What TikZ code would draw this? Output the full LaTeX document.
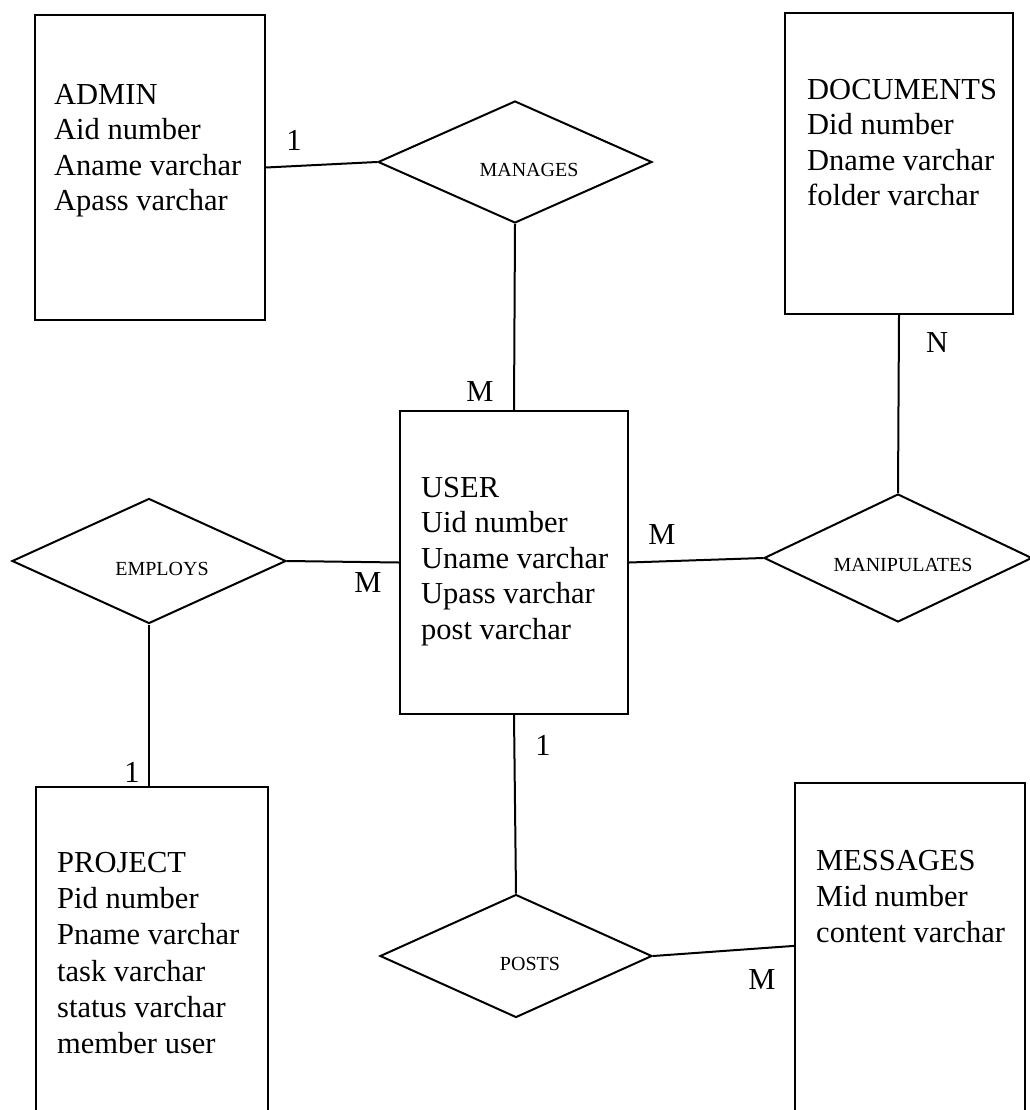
\documentclass[tikz,border=0pt]{standalone}
\usepackage{fontspec}
\setmainfont{Liberation Serif}
\usetikzlibrary{shapes.geometric,calc}
\begin{document}
\begin{tikzpicture}[x=1pt,y=-1pt,
  entity/.style={draw, rectangle, line width=2.2pt, inner sep=0pt},
  rel/.style={draw, diamond, line width=2pt, inner sep=0pt},
  attrs/.style={anchor=north west, inner sep=0pt, align=left,
    font=\fontsize{30.5}{35.5}\selectfont},
  rlabel/.style={inner sep=0pt, font=\fontsize{20}{24}\selectfont},
  card/.style={inner sep=0pt, font=\fontsize{30.5}{35}\selectfont},
  link/.style={line width=2pt}]
\useasboundingbox (0,0) rectangle (1029,1110);

% entities
\node[entity, minimum width=230pt, minimum height=305pt] (admin) at (150,167.5) {};
\node[entity, minimum width=228pt, minimum height=301pt] (docs) at (899,163.5) {};
\node[entity, minimum width=228pt, minimum height=303pt] (user) at (514,562.5) {};
\node[entity, minimum width=232pt, minimum height=353pt] (project) at (152,963.5) {};
\node[entity, minimum width=230pt, minimum height=357pt] (msg) at (910,961.5) {};

% attribute lists
\node[attrs] (admin-attrs) at (54,84) {ADMIN\\Aid number\\Aname varchar\\Apass varchar};
\node[attrs] (docs-attrs) at (807,79) {DOCUMENTS\\Did number\\Dname varchar\\folder varchar};
\node[attrs] (user-attrs) at (421,477) {USER\\Uid number\\Uname varchar\\Upass varchar\\post varchar};
\node[attrs, font=\fontsize{30.5}{36.2}\selectfont] (project-attrs) at (57,852)
  {PROJECT\\Pid number\\Pname varchar\\task varchar\\status varchar\\member user};
\node[attrs, font=\fontsize{30.5}{36}\selectfont] (msg-attrs) at (816,850)
  {MESSAGES\\Mid number\\content varchar};

% relationships
\node[rel, minimum width=274pt, minimum height=122pt] (manages) at (515,162) {};
\node[rel, minimum width=274pt, minimum height=125pt] (employs) at (149,561) {};
\node[rel, minimum width=268pt, minimum height=128pt] (manip) at (898,558) {};
\node[rel, minimum width=272pt, minimum height=123pt] (posts) at (516,956) {};

\node[rlabel] (manages-l) at (529,170) {MANAGES};
\node[rlabel] (employs-l) at (162,569) {EMPLOYS};
\node[rlabel] (manip-l) at (903,565) {MANIPULATES};
\node[rlabel] (posts-l) at (530,964) {POSTS};

% connectors
\coordinate (msg-in) at ($(msg.north west)+(0,164)$);
\draw[link] (admin.east) -- (manages.west);
\draw[link] (manages.south) -- (user.north);
\draw[link] (user.east) -- (manip.west);
\draw[link] (docs.south) -- (manip.north);
\draw[link] (employs.east) -- (user.west);
\draw[link] (employs.south) -- (employs.south |- project.north);
\draw[link] (user.south) -- (posts.north);
\draw[link] (posts.east) -- (msg-in);

% cardinalities
\node[card] (c-admin) at (294,140) {1};
\node[card] (c-user-top) at (480,392) {M};
\node[card] (c-docs) at (937,343) {N};
\node[card] (c-user-right) at (662,535) {M};
\node[card] (c-user-left) at (368,583) {M};
\node[card] (c-project) at (132,772) {1};
\node[card] (c-user-bottom) at (543,745) {1};
\node[card] (c-msg) at (762,980) {M};
\end{tikzpicture}
\end{document}
